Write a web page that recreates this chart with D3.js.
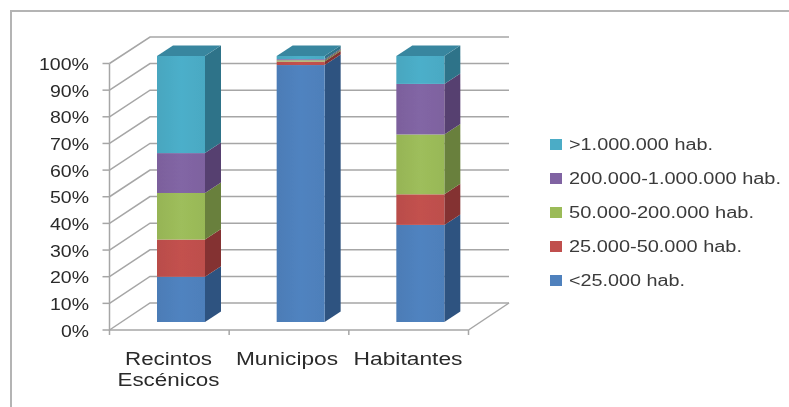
<!DOCTYPE html>
<html><head><meta charset="utf-8">
<script src="https://cdn.jsdelivr.net/npm/d3@7"></script>
<style>html,body{margin:0;padding:0;background:#fff}svg{display:block}text{font-family:"Liberation Sans",Arial,sans-serif}</style>
</head><body><svg id="c" width="789" height="407"></svg>
<script>
const categories = [["Recintos","Escénicos"],["Municipos"],["Habitantes"]];
const seriesNames = ["<25.000 hab.","25.000-50.000 hab.","50.000-200.000 hab.","200.000-1.000.000 hab.",">1.000.000 hab."];
const seriesColors = ["#4f81bd","#c0504d","#9bbb59","#8064a2","#4bacc6"];
const sideColors = ["#2f5380","#843230","#69803c","#573f70","#2f7389"];
const topColors = ["#3a6596","#96403d","#7a9646","#644e82","#37869f"];
const recintos = [17,14,17.5,15,36.5];
const municipos = [96.6,1.3,0.5,0.4,1.2];
const habitantes = [36.5,11.5,22.5,19,10.5];
const tickValues = [0,10,20,30,40,50,60,70,80,90,100];
const tableRows = [recintos,municipos,habitantes];

const svg = d3.select("#c");
const defs = svg.append("defs");
defs.append("filter").attr("id","soft").attr("filterUnits","userSpaceOnUse").attr("x",0).attr("y",0).attr("width",789).attr("height",407)
  .append("feGaussianBlur").attr("stdDeviation",0.55);
seriesColors.forEach((c,i)=>{
  const g=defs.append("linearGradient").attr("id","g"+i);
  g.append("stop").attr("offset","0%").attr("stop-color",d3.color(c).darker(0.1));
  g.append("stop").attr("offset","50%").attr("stop-color",d3.color(c).brighter(0.05));
  g.append("stop").attr("offset","100%").attr("stop-color",d3.color(c).darker(0.05));
});
const root = svg.append("g").attr("filter","url(#soft)");
root.append("path").attr("fill","none").attr("stroke","#b4b4b4").attr("stroke-width",2)
  .attr("d",d3.line()([[11,420],[11,11],[800,11]]));

// walls
const yFront = d3.scaleLinear().domain([0,100]).range([330,63.5]);
const yBack = d3.scaleLinear().domain([0,100]).range([303,37]);
const yBar = d3.scaleLinear().domain([0,100]).range([322,56]);
const xFront = d3.scaleBand().domain(d3.range(3)).range([109.5,468.5]);
const wallDx = 40.5, barDx = 16, barDy = 10.5, barW = 48, barInset = 47.5;
const grid = "#a6a6a6";
const lines = root.append("g").attr("stroke",grid).attr("stroke-width",1.5).attr("fill","none");
tickValues.forEach(t=>{
  lines.append("path").attr("d",d3.line()([[xFront.range()[0],yFront(t)],[xFront.range()[0]+wallDx,yBack(t)],[509,yBack(t)]]));
  lines.append("path").attr("d",d3.line()([[xFront.range()[0]-7,yFront(t)],[xFront.range()[0],yFront(t)]]));
});
lines.append("path").attr("d",d3.line()([[468.5,330],[509,303]]));
lines.append("path").attr("d",d3.line()([[109.5,63.5],[109.5,330],[468.5,330]]));
d3.range(4).forEach(i=>{
  const x=i<3?xFront(i):468.5;
  lines.append("path").attr("d",d3.line()([[x,330],[x,335]]));
});

// bars
tableRows.forEach((vals,ci)=>{
  const x0 = xFront(ci)+barInset;
  const stack = d3.cumsum(vals);
  const bar = root.append("g");
  vals.forEach((v,si)=>{
    const lo=si?stack[si-1]:0, hi=stack[si];
    const yl=yBar(lo), yh=yBar(hi);
    bar.append("path").attr("fill",sideColors[si]).attr("d",d3.line()([
      [x0+barW,yl],[x0+barW+barDx,yl-barDy],[x0+barW+barDx,yh-barDy],[x0+barW,yh]]));
    bar.append("rect").attr("x",x0).attr("y",yh).attr("width",barW).attr("height",yl-yh).attr("fill",`url(#g${si})`);
  });
  const yt=yBar(stack[4]);
  bar.append("path").attr("fill",topColors[4]).attr("d",d3.line()([
    [x0,yt],[x0+barDx,yt-barDy],[x0+barW+barDx,yt-barDy],[x0+barW,yt]]));
});

// axis labels
const txt = root.append("g").attr("fill","#2a2a2a");
tickValues.forEach(t=>{
  txt.append("text").attr("x",89).attr("y",yFront(t)+6.5).attr("text-anchor","end")
    .attr("font-size",16.5).attr("textLength",t===100?50:t===0?28:39).attr("lengthAdjust","spacingAndGlyphs").text(t+"%");
});
const catCenters=[168.5,287,408];
const catWidths=[[87,102],[102],[109]];
categories.forEach((lines2,i)=>{
  lines2.forEach((s,j)=>{
    txt.append("text").attr("x",catCenters[i]).attr("y",365+j*21)
      .attr("text-anchor","middle").attr("font-size",17.5).attr("textLength",catWidths[i][j]).attr("lengthAdjust","spacingAndGlyphs").text(s);
  });
});

// legend
const order=[4,3,2,1,0];
const legY=[144,178,212,246,280];
order.forEach((si,i)=>{
  root.append("rect").attr("x",550).attr("y",legY[i]-5).attr("width",12).attr("height",11).attr("fill",seriesColors[si]);
  root.append("text").attr("x",569).attr("y",legY[i]+6).attr("font-size",16).attr("fill","#3a3a3a")
    .attr("textLength",[144,212,185,173,116][i]).attr("lengthAdjust","spacingAndGlyphs").text(seriesNames[si]);
});
</script></body></html>
